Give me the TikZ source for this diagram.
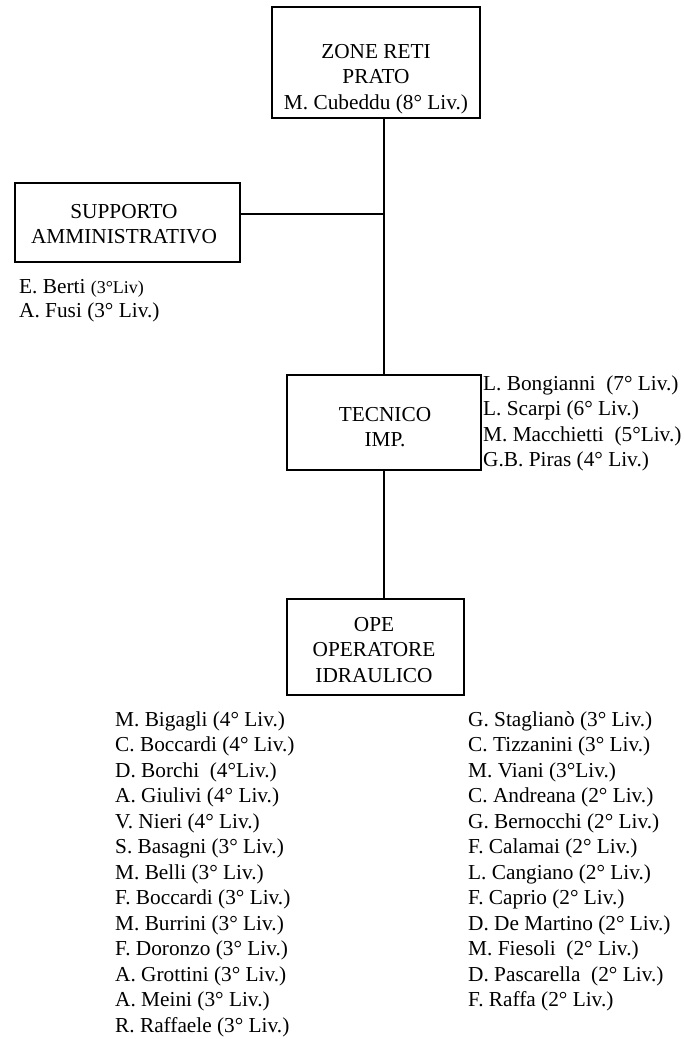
\documentclass[tikz,border=0pt]{standalone}
\usepackage{fontspec}
\setmainfont{Liberation Serif}
\usetikzlibrary{positioning}

\tikzset{
  unit box/.style={draw, line width=1.6pt, inner sep=0pt},
  box text/.style={align=center, inner sep=0pt, font=\fontsize{21.3}{25.5}\selectfont},
  name line/.style={anchor=base west, inner sep=0pt, font=\fontsize{21.3}{25.5}\selectfont},
  link/.style={line width=1.6pt},
}

\begin{document}
\begin{tikzpicture}[x=1pt,y=-1pt]
    \useasboundingbox (0,0) rectangle (684,1039);

    % units
    \node[unit box, minimum width=208, minimum height=111] (zone) at (376,62.5) {};
    \node[box text] (zonetxt) at (376,79) {ZONE RETI\\PRATO\\M. Cubeddu (8° Liv.)};

    \node[unit box, minimum width=225, minimum height=79] (supporto) at (127.5,222.5) {};
    \node[box text] (supportotxt) at (124,224) {SUPPORTO\\AMMINISTRATIVO};

    \node[unit box, minimum width=194, minimum height=95] (tecnico) at (384,422.5) {};
    \node[box text] (tecnicotxt) at (385,427) {TECNICO\\IMP.};

    \node[unit box, minimum width=177, minimum height=96] (ope) at (375.5,647) {};
    \node[box text] (opetxt) at (374,650) {OPE\\OPERATORE\\IDRAULICO};

    % links
    \coordinate (spine) at (384,0);
    \coordinate (branch) at (384,214);
    \draw[link] (zone.south -| spine) -- (tecnico.north -| spine);
    \draw[link] (branch) -- (branch -| supporto.east);
    \draw[link] (tecnico.south -| spine) -- (ope.north -| spine);

    % staff
    \node[name line] (adm0) at (19,293) {E. Berti {\fontsize{18}{21}\selectfont(3°Liv)}};
    \node[name line] (adm1) at (19,317) {A. Fusi (3° Liv.)};

    \foreach \who [count=\i from 0] in {L. Bongianni\ \ (7° Liv.), L. Scarpi (6° Liv.),
        M. Macchietti\ \ (5°Liv.), G.B. Piras (4° Liv.)}
      \node[name line] (tec\i) at (483,{390+25.6*\i}) {\who};

    \foreach \who [count=\i from 0] in {M. Bigagli (4° Liv.), C. Boccardi (4° Liv.),
        D. Borchi\ \ (4°Liv.), A. Giulivi (4° Liv.), V. Nieri (4° Liv.),
        S. Basagni (3° Liv.), M. Belli (3° Liv.), F. Boccardi (3° Liv.),
        M. Burrini (3° Liv.), F. Doronzo (3° Liv.), A. Grottini (3° Liv.),
        A. Meini (3° Liv.), R. Raffaele (3° Liv.)}
      \node[name line] (opeL\i) at (115,{726+25.5*\i}) {\who};

    \foreach \who [count=\i from 0] in {G. Staglianò (3° Liv.), C. Tizzanini (3° Liv.),
        M. Viani (3°Liv.), C. Andreana (2° Liv.), G. Bernocchi (2° Liv.),
        F. Calamai (2° Liv.), L. Cangiano (2° Liv.), F. Caprio (2° Liv.),
        D. De Martino (2° Liv.), M. Fiesoli\ \ (2° Liv.), D. Pascarella\ \ (2° Liv.),
        F. Raffa (2° Liv.)}
      \node[name line] (opeR\i) at (468,{726+25.5*\i}) {\who};
\end{tikzpicture}
\end{document}
